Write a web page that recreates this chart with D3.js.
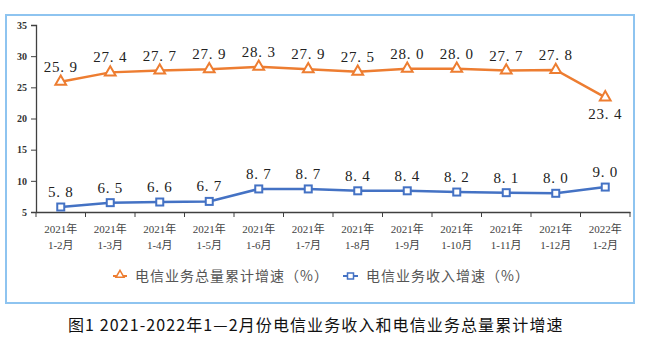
<!DOCTYPE html>
<html>
<head>
<meta charset="utf-8">
<script src="https://cdn.jsdelivr.net/npm/d3@7"></script>
<style>
  html, body { margin: 0; padding: 0; background: #fff; }
  svg { display: block; }
</style>
</head>
<body>
<svg id="chart" width="659" height="341"></svg>
<script>
// Monthly cumulative periods
const years = ["2021年","2021年","2021年","2021年","2021年","2021年","2021年","2021年","2021年","2021年","2021年","2022年"];
const periods = ["1-2月","1-3月","1-4月","1-5月","1-6月","1-7月","1-8月","1-9月","1-10月","1-11月","1-12月","1-2月"];
// Telecom business volume cumulative growth (%)
const volumeGrowth = [25.9, 27.4, 27.7, 27.9, 28.3, 27.9, 27.5, 28.0, 28.0, 27.7, 27.8, 23.4];
// Telecom business revenue growth (%)
const revenueGrowth = [5.8, 6.5, 6.6, 6.7, 8.7, 8.7, 8.4, 8.4, 8.2, 8.1, 8.0, 9.0];
const yTicks = [5, 10, 15, 20, 25, 30, 35];
const seriesNames = ["电信业务总量累计增速（%）", "电信业务收入增速（%）"];
const caption = "图1 2021-2022年1—2月份电信业务收入和电信业务总量累计增速";

const ORANGE = "#ED7D31", BLUE = "#4472C4";
const svg = d3.select("#chart");

// outer frame
svg.append("rect").attr("x", 6).attr("y", 15).attr("width", 628).attr("height", 288)
  .attr("fill", "none").attr("stroke", "#8EC4F0").attr("stroke-width", 2);

const idx = d3.range(years.length);
const x = d3.scaleBand().domain(idx).range([36, 630]);
const y = d3.scaleLinear().domain([5, 35]).range([212, 25]);
const cx = i => x(i) + x.bandwidth() / 2;

// y axis
const yAxis = svg.append("g").attr("transform", "translate(36,0)")
  .call(d3.axisLeft(y).tickValues(yTicks).tickSize(5).tickPadding(4));
yAxis.select(".domain").attr("stroke", "#404040").attr("stroke-width", 1.3);
yAxis.selectAll(".tick line").attr("stroke", "#404040");
yAxis.selectAll(".tick text").attr("font-family", "'Liberation Serif', serif")
  .attr("font-size", 10).attr("font-weight", "bold").attr("fill", "#333");

// x axis
const xAxis = svg.append("g").attr("transform", "translate(0,212)")
  .call(d3.axisBottom(x).tickSize(0).tickFormat(""));
xAxis.select(".domain").attr("stroke", "#404040").attr("stroke-width", 1.3);
// tick marks at category boundaries
svg.append("g").selectAll("line").data(d3.range(years.length + 1)).join("line")
  .attr("x1", i => 36 + i * x.step()).attr("x2", i => 36 + i * x.step())
  .attr("y1", 212).attr("y2", 217).attr("stroke", "#404040");

const xl = svg.append("g").attr("font-family", "'Liberation Serif', 'Noto Sans CJK SC', serif")
  .attr("font-size", 11).attr("fill", "#444").attr("text-anchor", "middle");
xl.selectAll("text.yr").data(idx).join("text").attr("class", "yr")
  .attr("x", cx).attr("y", 233).text(i => years[i]);
xl.selectAll("text.pd").data(idx).join("text").attr("class", "pd")
  .attr("x", cx).attr("y", 249).text(i => periods[i]);

const line = d3.line().x((d, i) => cx(i)).y(d => y(d));

// volume line
svg.append("path").datum(volumeGrowth).attr("d", line)
  .attr("fill", "none").attr("stroke", ORANGE).attr("stroke-width", 2.5);
const tri = d3.symbol().type(d3.symbolTriangle).size(50);
svg.append("g").selectAll("path").data(volumeGrowth).join("path")
  .attr("transform", (d, i) => `translate(${cx(i)},${y(d)})`)
  .attr("d", tri).attr("fill", "#fff").attr("stroke", ORANGE).attr("stroke-width", 2);

// revenue line
svg.append("path").datum(revenueGrowth).attr("d", line)
  .attr("fill", "none").attr("stroke", BLUE).attr("stroke-width", 2.5);
svg.append("g").selectAll("rect").data(revenueGrowth).join("rect")
  .attr("x", (d, i) => cx(i) - 3.5).attr("y", d => y(d) - 3.5)
  .attr("width", 7).attr("height", 7)
  .attr("fill", "#fff").attr("stroke", BLUE).attr("stroke-width", 2);

// data labels
const lab = svg.append("g").attr("font-family", "'Liberation Serif', serif")
  .attr("font-size", 15).attr("fill", "#222").attr("text-anchor", "middle")
  .attr("letter-spacing", 0.8);
const last = volumeGrowth.length - 1;
lab.selectAll("text.v").data(volumeGrowth).join("text").attr("class", "v")
  .attr("x", (d, i) => cx(i)).attr("y", (d, i) => i === last ? y(d) + 22 : y(d) - 10)
  .text(d => d.toFixed(1).replace(".", ". "));
lab.selectAll("text.r").data(revenueGrowth).join("text").attr("class", "r")
  .attr("x", (d, i) => cx(i)).attr("y", d => y(d) - 10)
  .text(d => d.toFixed(1).replace(".", ". "));

// legend
const lg = svg.append("g").attr("font-family", "'Noto Sans CJK SC', sans-serif")
  .attr("font-size", 14).attr("fill", "#555").attr("letter-spacing", 1);
lg.append("line").attr("x1", 113).attr("x2", 127).attr("y1", 276).attr("y2", 276)
  .attr("stroke", ORANGE).attr("stroke-width", 2);
lg.append("path").attr("transform", "translate(120,275)")
  .attr("d", d3.symbol().type(d3.symbolTriangle).size(28)).attr("fill", "#fff")
  .attr("stroke", ORANGE).attr("stroke-width", 1.5);
lg.append("text").attr("x", 135).attr("y", 281).text(seriesNames[0]);
lg.append("line").attr("x1", 343).attr("x2", 358).attr("y1", 276).attr("y2", 276)
  .attr("stroke", BLUE).attr("stroke-width", 2);
lg.append("rect").attr("x", 347.5).attr("y", 273).attr("width", 6).attr("height", 6)
  .attr("fill", "#fff").attr("stroke", BLUE).attr("stroke-width", 1.5);
lg.append("text").attr("x", 366).attr("y", 281).text(seriesNames[1]);

// caption
svg.append("text").attr("x", 68).attr("y", 331)
  .attr("font-family", "'Noto Sans CJK SC', sans-serif").attr("font-size", 16)
  .attr("letter-spacing", 1.1).attr("fill", "#111").text(caption);
</script>
</body>
</html>
